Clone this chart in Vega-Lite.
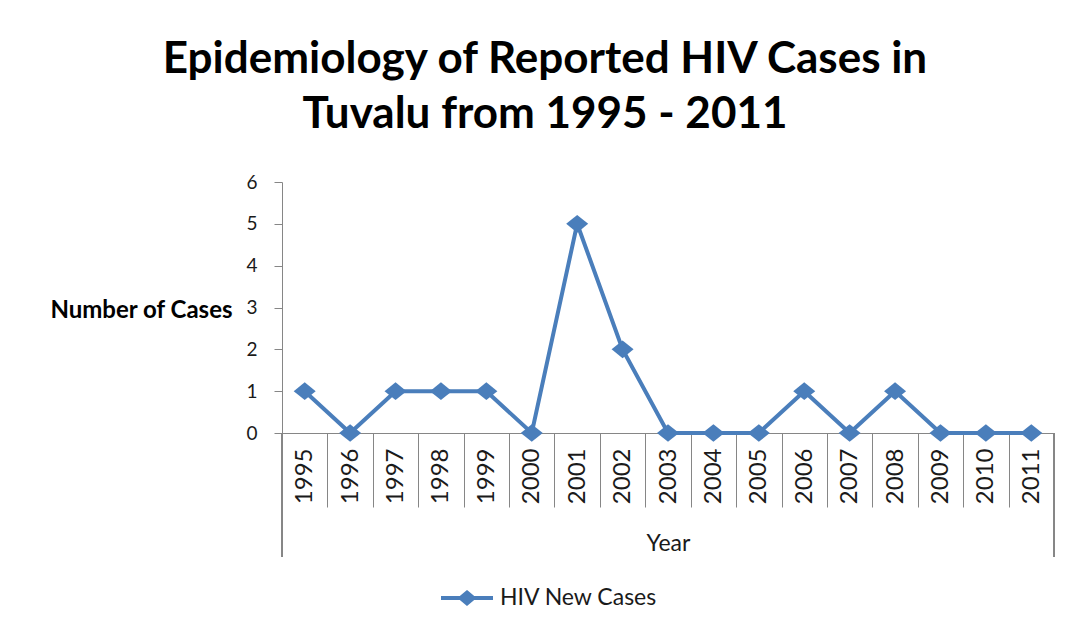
{
  "$schema": "https://vega.github.io/schema/vega-lite/v6.json",
  "width": 772,
  "height": 251,
  "autosize": {"type": "none"},
  "padding": {"left": 282, "top": 182, "right": 19, "bottom": 196},
  "background": "white",
  "config": {"view": {"stroke": null}},
  "title": {
    "text": ["Epidemiology of Reported HIV Cases in", "Tuvalu from 1995 - 2011"],
    "font": "Lato",
    "fontSize": 44,
    "fontWeight": "bold",
    "color": "#000000",
    "lineHeight": 55,
    "anchor": "middle",
    "frame": "group",
    "dx": -123,
    "baseline": "alphabetic",
    "offset": 1
  },
  "data": {
    "values": [
      {"Year": "1995", "Cases": 1},
      {"Year": "1996", "Cases": 0},
      {"Year": "1997", "Cases": 1},
      {"Year": "1998", "Cases": 1},
      {"Year": "1999", "Cases": 1},
      {"Year": "2000", "Cases": 0},
      {"Year": "2001", "Cases": 5},
      {"Year": "2002", "Cases": 2},
      {"Year": "2003", "Cases": 0},
      {"Year": "2004", "Cases": 0},
      {"Year": "2005", "Cases": 0},
      {"Year": "2006", "Cases": 1},
      {"Year": "2007", "Cases": 0},
      {"Year": "2008", "Cases": 1},
      {"Year": "2009", "Cases": 0},
      {"Year": "2010", "Cases": 0},
      {"Year": "2011", "Cases": 0}
    ]
  },
  "encoding": {
    "x": {
      "field": "Year",
      "type": "ordinal",
      "scale": {"type": "band", "paddingInner": 0, "paddingOuter": 0},
      "axis": {
        "title": "Year",
        "labelAngle": -90,
        "labelAlign": "right",
        "labelBaseline": "middle",
        "labelFont": "Lato",
        "labelFontSize": 24,
        "labelColor": "#1a1a1a",
        "labelPadding": -59,
        "labelOverlap": false,
        "tickBand": "extent",
        "tickSize": 74,
        "tickColor": "#868686",
        "domainColor": "#868686",
        "grid": false,
        "titleFont": "Lato",
        "titleFontSize": 23,
        "titleFontWeight": "normal",
        "titleColor": "#1a1a1a",
        "titleY": 117,
        "titleBaseline": "alphabetic"
      }
    },
    "y": {
      "field": "Cases",
      "type": "quantitative",
      "scale": {"domain": [0, 6]},
      "axis": {
        "title": "Number of Cases",
        "titleAngle": 0,
        "titleAlign": "right",
        "titleBaseline": "alphabetic",
        "titleX": -50,
        "titleY": 135,
        "titleFont": "Lato",
        "titleFontSize": 24,
        "titleFontWeight": "bold",
        "titleColor": "#000000",
        "values": [0, 1, 2, 3, 4, 5, 6],
        "labelFont": "Lato",
        "labelFontSize": 19,
        "labelColor": "#1a1a1a",
        "labelPadding": 17,
        "tickSize": 8,
        "tickColor": "#868686",
        "domainColor": "#868686",
        "grid": false
      }
    }
  },
  "layer": [
    {
      "mark": {"type": "line", "strokeWidth": 4},
      "encoding": {
        "color": {
          "datum": "HIV New Cases",
          "type": "nominal",
          "scale": {"range": ["#4A7EBB"]},
          "legend": {
            "orient": "none",
            "legendX": 157,
            "legendY": 388,
            "title": null,
            "padding": 0,
            "symbolType": "M-1,0H1M0,-0.21L0.25,0L0,0.21L-0.25,0Z",
            "symbolSize": 2704,
            "symbolStrokeWidth": 4,
            "symbolFillColor": "#4A7EBB",
            "symbolStrokeColor": "#4A7EBB",
            "labelFont": "Lato",
            "labelFontSize": 23,
            "labelColor": "#1a1a1a",
            "labelOffset": 5
          }
        }
      }
    },
    {
      "mark": {"type": "point", "shape": "M-1,0L0,-0.8L1,0L0,0.8Z", "filled": true, "size": 484, "opacity": 1},
      "encoding": {
        "color": {"datum": "HIV New Cases", "type": "nominal"}
      }
    },
    {
      "mark": {"type": "rule", "color": "#868686", "strokeWidth": 1},
      "encoding": {
        "x": {"datum": "1995", "type": "ordinal", "bandPosition": 0},
        "y": {"datum": 0, "type": "quantitative"},
        "y2": {"datum": -2.96}
      }
    },
    {
      "mark": {"type": "rule", "color": "#868686", "strokeWidth": 1},
      "encoding": {
        "x": {"datum": "2011", "type": "ordinal", "bandPosition": 1},
        "y": {"datum": 0, "type": "quantitative"},
        "y2": {"datum": -2.96}
      }
    }
  ]
}
